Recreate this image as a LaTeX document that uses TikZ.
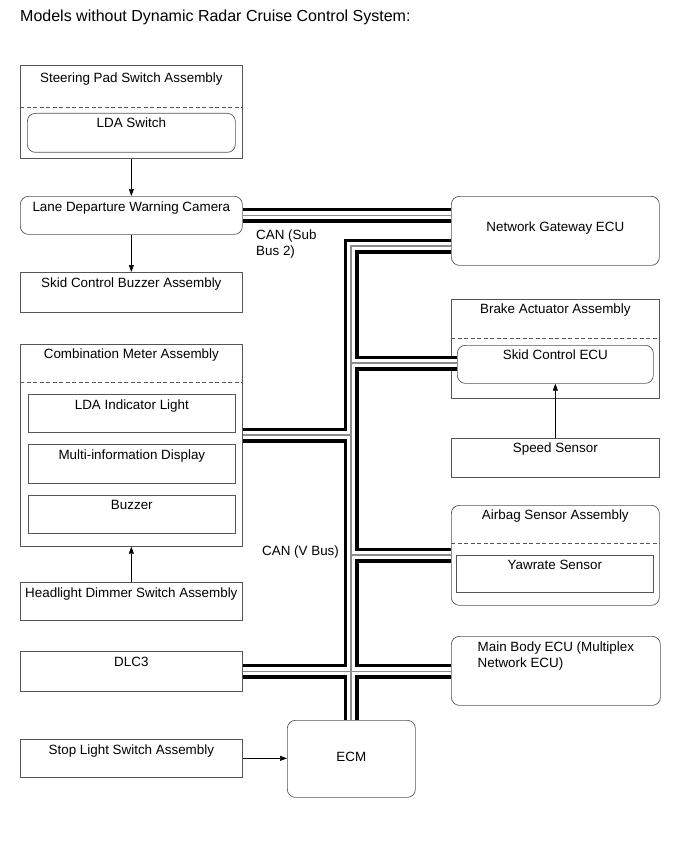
\documentclass[tikz,border=0pt]{standalone}
\usepackage{fontspec}
\setmainfont{Liberation Sans}
\usetikzlibrary{arrows.meta}
\definecolor{edgegray}{RGB}{85,85,85}
\definecolor{wiregray}{RGB}{140,140,140}

\begin{document}
\begin{tikzpicture}[x=1pt, y=-1pt,
    part/.style={draw=edgegray, line width=0.7pt, anchor=north west,
                 inner xsep=2pt, inner ysep=0pt, minimum width=222pt,
                 text height=15pt, align=center,
                 font=\fontsize{13.4}{16}\selectfont},
    rpart/.style={part, rounded corners=8pt},
    sep/.style={draw=edgegray, line width=0.6pt, dash pattern=on 4pt off 2.5pt},
    arr/.style={-{Triangle[length=7pt,width=5pt]}, line width=0.7pt},
    busout/.style={line width=15pt},
    busin/.style={white, line width=8pt},
    buscore/.style={wiregray, line width=1.2pt},
    lbl/.style={font=\fontsize{13.4}{16.5}\selectfont, align=left, inner sep=0pt}
  ]
    \useasboundingbox (0,0) rectangle (690,853);

    %% TITLE
    \node[anchor=base west, inner sep=0pt, font=\fontsize{16}{19}\selectfont] (title)
      at (20,21.5) {Models without Dynamic Radar Cruise Control System:};

    %% LEFT COLUMN
    \node[part, text height=17pt, text depth=76pt] (steer) at (20,65) {Steering Pad Switch Assembly};
    \node[rpart, minimum width=208pt, text height=14pt, text depth=25pt] (ldasw) at (27,113) {LDA Switch};
    \node[rpart, text depth=23pt] (ldwc) at (20,196) {Lane Departure Warning Camera};
    \node[part, text depth=25pt] (sbuzz) at (20,272) {Skid Control Buzzer Assembly};
    \node[part, text height=14pt, text depth=188pt] (cmeter) at (20,344) {Combination Meter Assembly};
    \node[part, minimum width=207pt, text depth=23pt] (ldaind) at (28,394) {LDA Indicator Light};
    \node[part, minimum width=207pt, text depth=24pt] (mid) at (28,444) {Multi-information Display};
    \node[part, minimum width=207pt, text height=14pt, text depth=24pt] (buzzer) at (28,495) {Buzzer};
    \node[part, text depth=23pt] (hdsw) at (20,582) {Headlight Dimmer Switch Assembly};
    \node[part, text depth=25pt] (dlc) at (20,651) {DLC3};
    \node[part, text depth=23pt] (stopsw) at (20,739) {Stop Light Switch Assembly};

    %% RIGHT COLUMN
    \node[rpart, minimum width=208pt, text height=35pt, text depth=34pt] (ngw) at (451,196) {Network Gateway ECU};
    \node[part, minimum width=208pt, text height=14pt, text depth=85pt] (brake) at (451,299) {Brake Actuator Assembly};
    \node[rpart, minimum width=196pt, text height=14pt, text depth=24pt] (scecu) at (457,345) {Skid Control ECU};
    \node[part, minimum width=208pt, text height=14pt, text depth=25pt] (speed) at (451,438) {Speed Sensor};
    \node[rpart, minimum width=208pt, text height=14pt, text depth=86pt] (airbag) at (451,505) {Airbag Sensor Assembly};
    \node[part, minimum width=197pt, text height=14pt, text depth=23pt] (yaw) at (456,555) {Yawrate Sensor};
    \node[rpart, minimum width=209pt, text height=31.5pt, text depth=37.5pt, align=left] (mbecu)
      at (451,636) {Main Body ECU (Multiplex\\Network ECU)};

    %% ECM
    \node[rpart, minimum width=128pt, text height=41pt, text depth=36pt] (ecm) at (287,720) {ECM};

    %% DASHED SEPARATORS
    \draw[sep] (steer.west |- 0,107) -- (steer.east |- 0,107);
    \draw[sep] (cmeter.west |- 0,382) -- (cmeter.east |- 0,382);
    \draw[sep] (brake.west |- 0,338) -- (brake.east |- 0,338);
    \draw[sep] (airbag.west |- 0,543) -- (airbag.east |- 0,543);

    %% SIGNAL ARROWS
    \draw[arr] (steer) -- (ldwc);
    \draw[arr] (ldwc) -- (sbuzz);
    \draw[arr] (hdsw) -- (cmeter);
    \draw[arr] (speed) -- (scecu);
    \draw[arr] (stopsw.east) -- (stopsw.east -| ecm.west);

    %% CAN BUSES
    \coordinate (vtop) at (351,246);
    \coordinate (cmj) at (351,435);
    \coordinate (scj) at (351,363);
    \coordinate (abj) at (351,555);
    \foreach \w in {busout,busin,buscore}{
      \draw[\w] (ldwc.east) -- (ldwc.east -| ngw.west);
      \draw[\w] (vtop -| ngw.west) -- (vtop) -- (vtop |- ecm.north);
      \draw[\w] (cmj -| cmeter.east) -- (cmj);
      \draw[\w] (scj) -- (scj -| scecu.west);
      \draw[\w] (abj) -- (abj -| airbag.west);
      \draw[\w] (dlc.east) -- (dlc.east -| mbecu.west);
    }

    %% BUS LABELS
    \node[lbl, anchor=base west] (subbus) at (256,255.5) {CAN (Sub\\Bus 2)};
    \node[lbl, anchor=base west] (vbus) at (262,555) {CAN (V Bus)};
  \end{tikzpicture}
\end{document}
